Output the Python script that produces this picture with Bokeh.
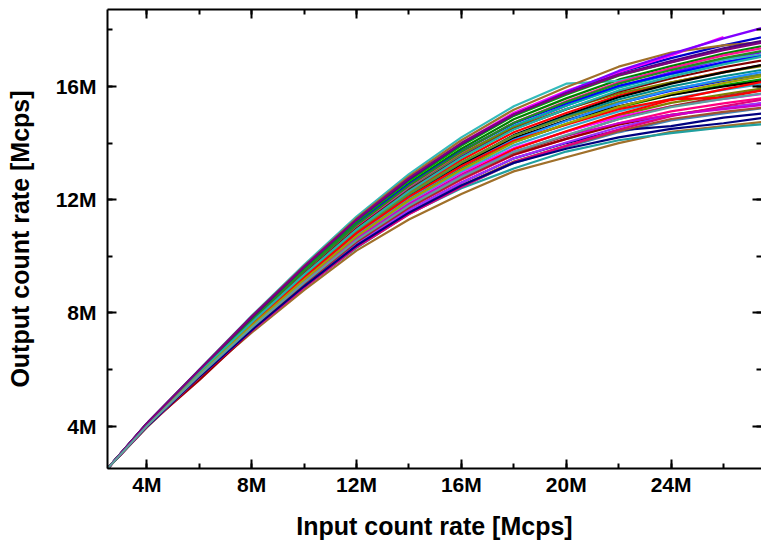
from bokeh.plotting import figure
from bokeh.models import LinearAxis, FixedTicker, Range1d
from bokeh.embed import file_html
from bokeh.resources import INLINE

NAN = float("nan")

# Input count rate (M counts per second) sampled for every channel
X_M = [2.5, 4, 6, 8, 10, 12, 14, 16, 18, 20, 22, 24, 26, 28]

# Output count rate (M counts per second), one list per channel
k01 = [2.5, 3.95, 5.70, 7.30, 8.80, 10.20, 11.30, 12.20, 13.00, 13.50, 14.00, 14.40, 14.60, 14.80]
k02 = [2.5, 4.00, 5.75, 7.40, 8.90, 10.30, 11.50, 12.40, 13.10, 13.70, 14.10, 14.35, 14.55, 14.70]
k03 = [2.5, 3.97, 5.73, 7.36, 8.90, 10.33, 11.50, 12.45, 13.30, 13.85, 14.38, 14.80, 15.05, 15.30]
k04 = [2.5, 3.98, 5.76, 7.42, 8.98, 10.44, 11.62, 12.60, 13.46, 14.00, 14.45, 14.60, 14.90, 15.10]
k05 = [2.5, 3.98, 5.74, 7.39, 8.94, 10.38, 11.54, 12.50, 13.35, 13.90, 14.42, 14.85, 15.10, 15.30]
k06 = [2.5, 3.99, 5.78, 7.45, 9.02, 10.50, 11.70, 12.70, 13.58, 14.15, 14.70, 15.12, 15.40, 15.65]
k07 = [2.5, 4.00, 5.62, 7.36, 9.04, 10.56, 11.76, 12.75, 13.60, 14.15, 14.65, 15.00, 15.25, 15.45]
k08 = [2.5, 4.01, 5.80, 7.51, 9.11, 10.62, 11.86, 12.90, 13.80, 14.40, 14.98, 15.42, 15.72, 16.00]
k09 = [2.5, 4.01, 5.82, 7.54, 9.16, 10.68, 11.92, 12.95, 13.82, 14.40, 14.92, 15.30, 15.56, 15.80]
k10 = [2.5, 4.02, 5.83, 7.57, 9.20, 10.74, 12.02, 13.10, 14.03, 14.67, 15.26, 15.70, 16.04, 16.33]
k11 = [2.5, 4.03, 5.85, 7.60, 9.25, 10.80, 12.10, 13.20, 14.15, 14.80, 15.40, 15.85, 16.20, 16.50]
k12 = [2.5, 4.03, 5.86, 7.63, 9.30, 10.86, 12.16, 13.25, 14.18, 14.80, 15.30, 15.70, 16.00, 16.25]
k13 = [2.5, 4.04, 5.88, 7.66, 9.34, 10.92, 12.26, 13.40, 14.38, 15.06, 15.68, 16.14, 16.52, 16.84]
k14 = [2.5, 4.05, 5.90, 7.69, 9.39, 10.98, 12.36, 13.55, 14.58, 15.32, 16.00, 16.50, 16.95, 17.30]
k15 = [2.5, 4.06, 5.91, 7.72, 9.43, 11.04, 12.42, 13.60, 14.61, 15.32, 15.96, 16.43, 16.84, 17.18]
k16 = [2.5, 4.06, 5.92, 7.75, 9.47, 11.10, 12.46, 13.62, 14.55, 15.20, 15.75, 16.15, 16.50, 16.80]
k17 = [2.5, 4.07, 5.94, 7.78, 9.52, 11.16, 12.58, 13.80, 14.84, 15.58, 16.24, 16.72, 17.16, 17.52]
k18 = [2.5, 4.08, 5.95, 7.81, 9.57, 11.22, 12.68, 13.95, 15.00, 15.80, 16.50, 17.00, 17.45, 17.85]
k19 = [2.5, 4.09, 5.97, 7.84, 9.61, 11.28, 12.74, 14.00, 15.07, 15.84, 16.50, 17.10, 17.75, NAN]
k20 = [2.5, 4.10, 6.00, 7.90, 9.70, 11.40, 12.90, 14.20, 15.30, 16.10, 16.20, 16.60, 16.95, 17.20]
k21 = [2.5, 4.09, 5.98, 7.87, 9.65, 11.34, 12.82, 14.10, 15.18, 15.97, 16.70, 17.20, 17.45, 17.60]
k22 = [2.5, 4.08, 5.96, 7.82, 9.58, 11.24, 12.70, 13.95, 15.00, 15.80, 16.55, 17.15, 17.70, 18.20]
k23 = [2.5, 4.03, 5.84, 7.59, 9.24, 10.80, 12.14, 13.28, 14.28, 14.98, 15.62, 16.10, 16.50, 16.85]
k24 = [2.5, 4.01, 5.82, 7.54, 9.16, 10.68, 11.94, 13.00, 13.92, 14.54, 15.12, 15.56, 15.88, 16.16]
k25 = [2.5, 4.00, 5.79, 7.48, 9.07, 10.56, 11.80, 12.85, 13.78, 14.42, 15.02, 15.52, 15.90, 16.25]
k26 = [2.5, 3.98, 5.76, 7.42, 8.98, 10.44, 11.62, 12.60, 13.46, 14.02, 14.56, 14.98, 15.24, 15.48]
k27 = [2.5, 3.97, 5.73, 7.36, 8.89, 10.32, 11.48, 12.45, 13.32, 13.90, 14.48, 14.95, 15.30, 15.62]
k28 = [2.5, 4.03, 5.86, 7.63, 9.29, 10.86, 12.18, 13.30, 14.26, 14.93, 15.54, 16.00, 16.36, 16.67]
k29 = [2.5, 4.04, 5.88, 7.66, 9.34, 10.90, 12.22, 13.32, 14.25, 14.90, 15.45, 15.90, 16.22, 16.50]
k30 = [2.5, 4.06, 5.91, 7.72, 9.44, 11.06, 12.46, 13.68, 14.72, 15.48, 16.15, 16.65, 17.10, 17.45]
k31 = [2.5, 4.07, 5.94, 7.78, 9.52, 11.14, 12.54, 13.72, 14.70, 15.40, 16.02, 16.45, 16.85, 17.15]
k32 = [2.5, 4.08, 5.95, 7.81, 9.56, 11.22, 12.66, 13.90, 14.96, 15.71, 16.38, 16.86, 17.32, 17.69]
k33 = [2.5, 4.05, 5.90, 7.69, 9.38, 10.98, 12.34, 13.50, 14.50, 15.19, 15.82, 16.28, 16.68, 17.01]
k34 = [2.5, 4.01, 5.80, 7.51, 9.11, 10.62, 11.84, 12.85, 13.70, 14.25, 14.70, 15.00, 15.20, 15.40]
k35 = [2.5, 4.02, 5.83, 7.57, 9.21, 10.76, 12.06, 13.16, 14.12, 14.78, 15.40, 15.88, 16.26, 16.60]
k36 = [2.5, 4.06, 5.92, 7.75, 9.48, 11.10, 12.50, 13.70, 14.72, 15.45, 16.10, 16.58, 17.00, 17.35]
k37 = [2.5, 3.99, 5.77, 7.45, 9.02, 10.50, 11.72, 12.74, 13.64, 14.26, 14.85, 15.30, 15.65, 15.95]
k38 = [2.5, 4.03, 5.85, 7.60, 9.25, 10.82, 12.10, 13.18, 14.08, 14.65, 15.20, 15.55, 15.60, 15.95]
k39 = [2.5, 4.09, 5.97, 7.84, 9.61, 11.28, 12.72, 13.96, 15.00, 15.76, 16.42, 16.90, 17.35, 17.70]
k40 = [2.5, 4.04, 5.88, 7.66, 9.35, 10.94, 12.30, 13.48, 14.48, 15.20, 15.86, 16.35, 16.78, 17.15]
k41 = [2.5, 3.98, 5.74, 7.39, 8.94, 10.38, 11.54, 12.50, 13.30, 13.80, 14.20, 14.50, 14.70, 14.95]
k42 = [2.5, 4.01, 5.82, 7.54, 9.17, 10.70, 11.98, 13.06, 14.02, 14.68, 15.28, 15.75, 16.12, 16.45]
k43 = [2.5, 4.09, 5.98, 7.87, 9.64, 11.30, 12.76, 14.00, 15.02, 15.75, 16.40, 16.85, 17.28, 17.65]
k44 = [2.5, 4.00, 5.79, 7.48, 9.07, 10.56, 11.78, 12.80, 13.69, 14.28, 14.84, 15.27, 15.56, 15.82]

CHANNELS = [k01, k02, k03, k04, k05, k06, k07, k08, k09, k10, k11,
            k12, k13, k14, k15, k16, k17, k18, k19, k20, k21, k22,
            k23, k24, k25, k26, k27, k28, k29, k30, k31, k32, k33,
            k34, k35, k36, k37, k38, k39, k40, k41, k42, k43, k44]

COLORS = ["#A0702A", "#20A0A0", "#4682B4", "#000080", "#A0522D", "#FF0080",
          "#990000", "#808000", "#FF00FF", "#00A000", "#0000FF", "#000000",
          "#FF0000", "#8000FF", "#00AAAA", "#808000", "#008000", "#0000CD",
          "#FF00FF", "#33BBBB", "#A0702A", "#8000FF", "#000000", "#33AACC",
          "#FF0000", "#9B30FF", "#E0007F", "#008B8B", "#6B8E23", "#FF1493",
          "#0000FF", "#00B000", "#800000", "#CC00CC", "#1E90FF", "#228B22",
          "#A52A2A", "#FF0000", "#4B0082", "#20B2AA", "#000080", "#A0A000",
          "#800080", "#5F9EA0"]

X_TICKS = [4, 8, 12, 16, 20, 24, 28]
X_LABELS = ["4M", "8M", "12M", "16M", "20M", "24M", "28M"]
Y_TICKS = [4, 8, 12, 16]
Y_LABELS = ["4M", "8M", "12M", "16M"]
X_MINOR = [2, 6, 10, 14, 18, 22, 26]
Y_MINOR = [2, 6, 10, 14, 18]

FONT = "Liberation Sans"

p = figure(width=761, height=543, output_backend="svg", toolbar_location=None,
           x_range=Range1d(2.5, 27.45), y_range=Range1d(2.5, 18.72),
           min_border_left=107, min_border_right=0, min_border_top=9,
           min_border_bottom=75, x_axis_location="below", y_axis_location="left")
p.outline_line_color = None
p.grid.visible = False
p.background_fill_color = "white"
p.border_fill_color = "white"

for ys, col in zip(CHANNELS, COLORS):
    p.line(X_M, ys, line_color=col, line_width=2.2)

xt = FixedTicker(ticks=X_TICKS, minor_ticks=X_MINOR + X_TICKS)
yt = FixedTicker(ticks=Y_TICKS, minor_ticks=Y_MINOR + Y_TICKS)


def style(ax, labels=True):
    ax.axis_line_width = 2
    ax.axis_line_color = "black"
    ax.major_tick_in = 9
    ax.major_tick_out = 0
    ax.minor_tick_in = 5
    ax.minor_tick_out = 0
    ax.major_tick_line_width = 2
    ax.minor_tick_line_width = 2
    ax.major_tick_line_color = "black"
    ax.minor_tick_line_color = "black"
    if labels:
        ax.major_label_text_font = FONT
        ax.major_label_text_font_style = "bold"
        ax.major_label_text_font_size = "21px"
        ax.major_label_text_color = "black"
        ax.axis_label_text_font = FONT
        ax.axis_label_text_font_style = "bold"
        ax.axis_label_text_font_size = "25px"
        ax.axis_label_text_color = "black"
    else:
        ax.major_label_text_font_size = "0px"
        ax.major_label_text_color = None
        ax.major_label_text_alpha = 0
        ax.major_label_standoff = 0


xa = p.xaxis[0]
xa.ticker = xt
xa.major_label_overrides = dict(zip(X_TICKS, X_LABELS))
xa.axis_label = "Input count rate [Mcps]"
style(xa)
xa.major_label_standoff = 4
xa.axis_label_standoff = 13

ya = p.yaxis[0]
ya.ticker = yt
ya.major_label_overrides = dict(zip(Y_TICKS, Y_LABELS))
ya.axis_label = "Output count rate [Mcps]"
style(ya)
ya.major_label_standoff = 11
ya.axis_label_standoff = 19

top = LinearAxis(ticker=xt)
style(top, labels=False)
p.add_layout(top, "above")

right = LinearAxis(ticker=yt)
style(right, labels=False)
right.axis_line_color = None
p.add_layout(right, "right")

open("out.html", "w").write(file_html(p, INLINE))
